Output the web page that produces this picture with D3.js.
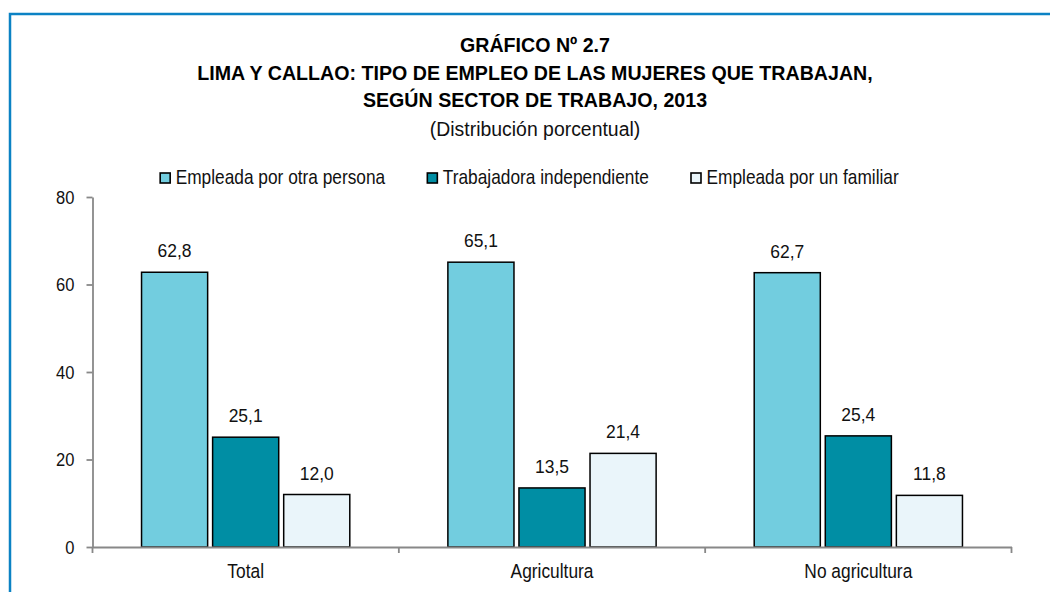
<!DOCTYPE html>
<html><head><meta charset="utf-8">
<script src="https://cdn.jsdelivr.net/npm/d3@7"></script>
<style>
html,body{margin:0;padding:0;background:#fff;}
svg{display:block;}
text{font-family:"Liberation Sans",Arial,sans-serif;}
</style></head>
<body>
<svg id="chart" width="1050" height="592"></svg>
<script>
const categories = ["Total", "Agricultura", "No agricultura"];
const seriesNames = ["Empleada por otra persona", "Trabajadora independiente", "Empleada por un familiar"];
const empleadaOtra = [62.8, 65.1, 62.7];
const independiente = [25.1, 13.5, 25.4];
const empleadaFamiliar = [12.0, 21.4, 11.8];
const yTicks = [0, 20, 40, 60, 80];
const titleLines = ["GRÁFICO Nº 2.7", "LIMA Y CALLAO: TIPO DE EMPLEO DE LAS MUJERES QUE TRABAJAN,", "SEGÚN SECTOR DE TRABAJO, 2013"];
const subtitle = "(Distribución porcentual)";

const colors = ["#72CDDF", "#008EA4", "#EAF5FA"];
const seriesValues = [empleadaOtra, independiente, empleadaFamiliar];

// horizontally condense text (narrow font look)
function condense(sel, sx){
  sel.each(function(){
    const t = d3.select(this);
    const x = +t.attr("x") || 0, y = +t.attr("y") || 0;
    t.attr("x",0).attr("y",0).attr("transform",`translate(${x},${y}) scale(${sx},1)`);
  });
}

const svg = d3.select("#chart");
svg.append("rect").attr("x",10).attr("y",14).attr("width",1100).attr("height",700)
  .attr("fill","none").attr("stroke","#0B82C4").attr("stroke-width",2.5);

const mLeft = 92.5, mRight = 1011.5, mTop = 197, mBottom = 547;
const x0 = d3.scaleBand().domain(categories).range([mLeft, mRight]).padding(0);
const x1 = d3.scaleBand().domain(d3.range(3)).range([0, x0.bandwidth()]).paddingInner(0.07).paddingOuter(0.69);
const y = d3.scaleLinear().domain([0, 80]).range([mBottom, mTop]);

const cx = 535;
const tl = svg.append("g").attr("text-anchor","middle");
titleLines.forEach((t,i)=>{
  tl.append("text").attr("class","ttl").attr("x",cx).attr("y",52 + i*27.7).attr("font-weight","bold")
    .attr("font-size",21).attr("fill","#000").text(t);
});
condense(tl.selectAll("text.ttl"), 0.935);
const st = tl.append("text").attr("x",cx).attr("y",136).attr("font-size",21).attr("fill","#111").text(subtitle);
condense(st, 0.925);

const data = categories.map((c,i)=>({cat:c, vals: seriesValues.map((s,j)=>({j, v:s[i]}))}));
const groups = svg.append("g").selectAll("g").data(data).join("g")
  .attr("transform", d=>`translate(${x0(d.cat)},0)`);
groups.selectAll("rect").data(d=>d.vals).join("rect")
  .attr("x", d=>x1(d.j)).attr("width", x1.bandwidth())
  .attr("y", d=>y(d.v)).attr("height", d=>y(0)-y(d.v))
  .attr("fill", d=>colors[d.j]).attr("stroke","#000").attr("stroke-width",1.5);
const vl = groups.selectAll("text.val").data(d=>d.vals).join("text").attr("class","val")
  .attr("x", d=>x1(d.j)+x1.bandwidth()/2).attr("y", d=>y(d.v)-15)
  .attr("text-anchor","middle").attr("font-size",19).attr("fill","#111")
  .text(d=>d.v.toFixed(1).replace(".",","));
condense(vl, 0.92);

const ff = '"Liberation Sans",Arial,sans-serif';
const yAxis = d3.axisLeft(y).tickValues(yTicks).tickSize(6).tickPadding(12).tickSizeOuter(0);
const gy = svg.append("g").attr("transform",`translate(${mLeft},0)`).call(yAxis);
gy.select(".domain").attr("stroke","#888").attr("stroke-width",1.8);
gy.selectAll(".tick line").attr("stroke","#888").attr("stroke-width",1.8);
gy.selectAll(".tick text").attr("font-size",19).attr("fill","#111").attr("font-family",ff);
condense(gy.selectAll(".tick text"), 0.87);

const xAxis = d3.axisBottom(x0).tickSize(0).tickPadding(17).tickSizeOuter(0);
const gx = svg.append("g").attr("transform",`translate(0,${mBottom})`).call(xAxis);
gx.select(".domain").attr("stroke","#888").attr("stroke-width",1.8);
gx.selectAll(".tick text").attr("font-size",19.5).attr("fill","#111").attr("font-family",ff);
condense(gx.selectAll(".tick text"), 0.89);
const bounds = categories.map(c=>x0(c)).concat([x0(categories[categories.length-1])+x0.bandwidth()]);
gx.selectAll("line.bt").data(bounds).join("line").attr("class","bt")
  .attr("x1",d=>d).attr("x2",d=>d).attr("y1",0).attr("y2",6)
  .attr("stroke","#888").attr("stroke-width",1.8);

const legSx = 0.865;
const lg = svg.append("g");
const items = lg.selectAll("g").data(seriesNames).join("g");
items.append("rect").attr("width",10).attr("height",10).attr("y",173)
  .attr("fill",(d,i)=>colors[i]).attr("stroke","#000").attr("stroke-width",1.6);
items.append("text").attr("x",15.5).attr("y",183.5).attr("font-size",20).attr("fill","#111").text(d=>d);
let xpos = 0; const offs = [];
items.each(function(d){
  offs.push(xpos);
  const w = d3.select(this).select("text").node().getComputedTextLength() * legSx;
  xpos += 15.5 + w + 42;
});
condense(items.selectAll("text"), legSx);
const totalW = xpos - 42;
const startX = 529.5 - totalW/2;
items.attr("transform",(d,i)=>`translate(${startX+offs[i]},0)`);
</script>
</body></html>
